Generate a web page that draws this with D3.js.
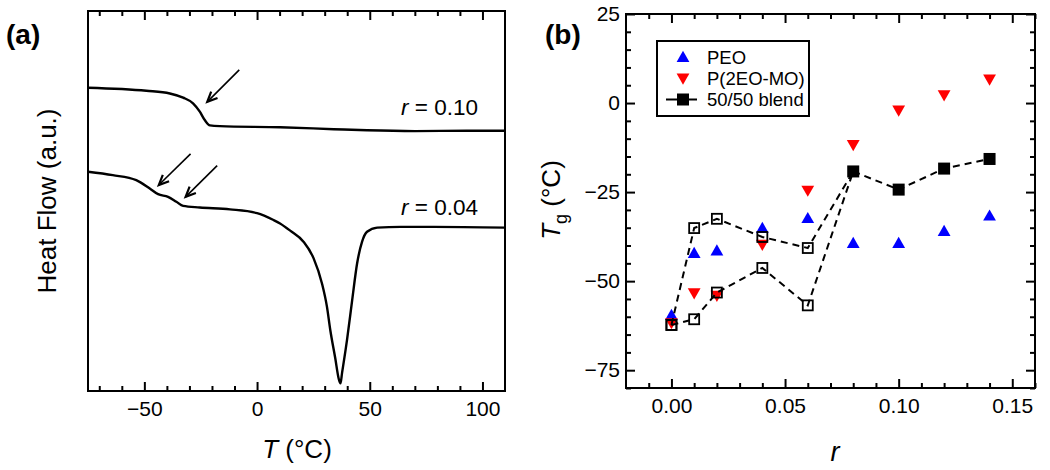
<!DOCTYPE html>
<html>
<head>
<meta charset="utf-8">
<script src="https://cdn.jsdelivr.net/npm/d3@7"></script>
<style>
  html, body { margin: 0; padding: 0; background: #fff; }
  svg { display: block; font-family: "Liberation Sans", Arial, Helvetica, sans-serif; }
</style>
</head>
<body>
<svg id="chart" width="1050" height="470"></svg>
<script>
// ---------- Panel (a): DSC traces ----------
const tempR010 = [-75, -49.1, -38.7, -32.8, -28.4, -25.4, -23.2, -20.9, -16.5, 10.2, 34, 48.8, 70, 93, 110];
const heatR010 = [79.8, 79.0, 78.3, 77.2, 75.7, 73.5, 71.3, 69.9, 69.7, 69.4, 68.9, 68.6, 68.4, 68.5, 68.5];
const tempR004 = [-75, -64, -53.6, -47.6, -43.9, -39.5, -35.8, -32.8, -25.4, -12, 0, 7.3, 10.2, 14.7, 20.6, 25.1, 28.8, 31, 32.5, 34.7, 36.2, 37, 37.7, 39.9, 42.2, 44.4, 46.6, 48.8, 53.3, 63.7, 78.4, 110];
const heatR004 = [57.7, 56.8, 55.5, 53.3, 51.8, 51.1, 49.8, 48.7, 48.3, 47.8, 46.8, 45.0, 44.1, 42.2, 39.3, 34.9, 28.3, 22.2, 16.0, 8.6, 3.3, 2.0, 4.7, 13.4, 23.9, 33.6, 39.3, 41.9, 43.0, 43.2, 43.2, 43.0];
const traceLabels = ["0.10", "0.04"];
const tempMajorTicks = [-50, 0, 50, 100];
const tempMinorTicks = [-70, -60, -40, -30, -20, -10, 10, 20, 30, 40, 60, 70, 80, 90];
// arrows: [T_from, HF_from, T_to, HF_to]
const arrowFromT = [-7.9, -29.5, -17.7];
const arrowFromH = [84.5, 62.4, 59.3];
const arrowToT = [-22.1, -43.6, -31.7];
const arrowToH = [76.1, 54.2, 51.1];

// ---------- Panel (b): Tg vs r ----------
const rPEO = [0, 0.01, 0.02, 0.04, 0.06, 0.08, 0.10, 0.12, 0.14];
const tgPEO = [-59.5, -42.1, -41.4, -35.1, -32.3, -39.3, -39.3, -35.9, -31.6];
const rP2EO = [0, 0.01, 0.02, 0.04, 0.06, 0.08, 0.10, 0.12, 0.14];
const tgP2EO = [-61.8, -53.4, -54.1, -39.8, -24.6, -11.8, -2.1, 2.2, 6.6];
const rBlendUpper = [0, 0.01, 0.02, 0.04, 0.06, 0.08];
const tgBlendUpper = [-62.3, -35.1, -32.5, -37.6, -40.7, -19.2];
const rBlendLower = [0, 0.01, 0.02, 0.04, 0.06, 0.08];
const tgBlendLower = [-62.3, -60.7, -53.2, -46.3, -56.8, -19.2];
const rBlendFilled = [0.08, 0.10, 0.12, 0.14];
const tgBlendFilled = [-19.2, -24.3, -18.4, -15.7];
const rMajorTicks = [0, 0.05, 0.10, 0.15];
const rMinorTicks = [-0.01, 0.01, 0.02, 0.03, 0.04, 0.06, 0.07, 0.08, 0.09, 0.11, 0.12, 0.13, 0.14, 0.16];
const tgMajorTicks = [25, 0, -25, -50, -75];
const tgMinorTicks = [20, 15, 10, 5, -5, -10, -15, -20, -30, -35, -40, -45, -55, -60, -65, -70, -80];
const legendLabels = ["PEO", "P(2EO-MO)", "50/50 blend"];

const svg = d3.select("#chart");
const FONT_TICK = 21;

function frameAxes(g, x, y, xMajor, xMinor, yMajor, yMinor, xFmt, yFmt, showY) {
  const [x0, x1] = x.range();
  const [y0, y1] = y.range(); // y0 bottom, y1 top
  const W = x1 - x0, H = y0 - y1;
  const bMaj = g.append("g").attr("transform", `translate(0,${y0})`)
    .call(d3.axisBottom(x).tickValues(xMajor).tickSize(-9).tickPadding(10).tickFormat(xFmt));
  const bMin = g.append("g").attr("transform", `translate(0,${y0})`)
    .call(d3.axisBottom(x).tickValues(xMinor).tickSize(-5).tickFormat(""));
  const tMaj = g.append("g").attr("transform", `translate(0,${y1})`)
    .call(d3.axisTop(x).tickValues(xMajor).tickSize(-9).tickFormat(""));
  const tMin = g.append("g").attr("transform", `translate(0,${y1})`)
    .call(d3.axisTop(x).tickValues(xMinor).tickSize(-5).tickFormat(""));
  const all = [bMaj, bMin, tMaj, tMin];
  if (showY) {
    all.push(g.append("g").attr("transform", `translate(${x0},0)`)
      .call(d3.axisLeft(y).tickValues(yMajor).tickSize(-9).tickPadding(6).tickFormat(yFmt)));
    all.push(g.append("g").attr("transform", `translate(${x0},0)`)
      .call(d3.axisLeft(y).tickValues(yMinor).tickSize(-5).tickFormat("")));
    all.push(g.append("g").attr("transform", `translate(${x1},0)`)
      .call(d3.axisRight(y).tickValues(yMajor).tickSize(-9).tickFormat("")));
    all.push(g.append("g").attr("transform", `translate(${x1},0)`)
      .call(d3.axisRight(y).tickValues(yMinor).tickSize(-5).tickFormat("")));
  }
  all.forEach(a => {
    a.select(".domain").remove();
    a.selectAll("line").attr("stroke", "#000").attr("stroke-width", 2);
    a.selectAll("text").attr("fill", "#000").style("font-size", FONT_TICK + "px")
      .style("font-family", '"Liberation Sans", Arial, sans-serif');
  });
  g.append("rect").attr("x", x0).attr("y", y1).attr("width", W).attr("height", H)
    .attr("fill", "none").attr("stroke", "#000").attr("stroke-width", 2);
}

// ================= Panel (a) =================
const xa = d3.scaleLinear().domain([-75, 110]).range([88, 505]);
const ya = d3.scaleLinear().domain([0, 100]).range([391, 11]);
const ga = svg.append("g");

const lineA = d3.line().x(d => xa(d[0])).y(d => ya(d[1])).curve(d3.curveMonotoneX);
const traces = [d3.zip(tempR010, heatR010), d3.zip(tempR004, heatR004)];
ga.selectAll("path.trace").data(traces).enter().append("path")
  .attr("class", "trace").attr("d", lineA)
  .attr("fill", "none").attr("stroke", "#000").attr("stroke-width", 2.4)
  .attr("stroke-linejoin", "round");

frameAxes(ga, xa, ya, tempMajorTicks, tempMinorTicks, [], [], d3.format("d"), null, false);

// arrows
arrowFromT.forEach((t, i) => {
  const xf = xa(t), yf = ya(arrowFromH[i]);
  const xt = xa(arrowToT[i]), yt = ya(arrowToH[i]);
  const ang = Math.atan2(yf - yt, xf - xt);
  const L = 11, spread = 0.42;
  const p1 = [xt + L * Math.cos(ang + spread), yt + L * Math.sin(ang + spread)];
  const p2 = [xt + L * Math.cos(ang - spread), yt + L * Math.sin(ang - spread)];
  ga.append("line").attr("x1", xf).attr("y1", yf).attr("x2", xt).attr("y2", yt)
    .attr("stroke", "#000").attr("stroke-width", 1.6);
  ga.append("path").attr("d", `M${p1[0]},${p1[1]}L${xt},${yt}L${p2[0]},${p2[1]}`)
    .attr("fill", "none").attr("stroke", "#000").attr("stroke-width", 2.2)
    .attr("stroke-linejoin", "miter");
});

// trace labels
const labelY = [115, 215];
traceLabels.forEach((lab, i) => {
  const t = ga.append("text").attr("x", 478).attr("y", labelY[i])
    .attr("text-anchor", "end").style("font-size", "22.5px").attr("fill", "#000");
  t.append("tspan").style("font-style", "italic").text("r");
  t.append("tspan").text(" = " + lab);
});

// axis titles
const tA = ga.append("text").attr("x", 297).attr("y", 458).attr("text-anchor", "middle")
  .style("font-size", "26px");
tA.append("tspan").style("font-style", "italic").text("T");
tA.append("tspan").text(" (°C)");
ga.append("text").attr("transform", "translate(56,201) rotate(-90)")
  .attr("text-anchor", "middle").style("font-size", "26px").text("Heat Flow (a.u.)");
ga.append("text").attr("x", 6).attr("y", 44).style("font-size", "28px")
  .style("font-weight", "bold").text("(a)");

// ================= Panel (b) =================
const xb = d3.scaleLinear().domain([-0.02, 0.16]).range([626, 1035]);
const yb = d3.scaleLinear().domain([-80, 25]).range([388, 14]);
const gb = svg.append("g");

frameAxes(gb, xb, yb, rMajorTicks, rMinorTicks, tgMajorTicks, tgMinorTicks,
  d3.format(".2f"), d3.format("d"), true);

const upTri = "M0,-6.2L6.4,5L-6.4,5Z";
const downTri = "M0,6.2L6.4,-5L-6.4,-5Z";

gb.selectAll("path.peo").data(d3.zip(rPEO, tgPEO)).enter().append("path")
  .attr("class", "peo").attr("d", upTri)
  .attr("transform", d => `translate(${xb(d[0])},${yb(d[1])})`).attr("fill", "#0000ff");
gb.selectAll("path.p2eo").data(d3.zip(rP2EO, tgP2EO)).enter().append("path")
  .attr("class", "p2eo").attr("d", downTri)
  .attr("transform", d => `translate(${xb(d[0])},${yb(d[1])})`).attr("fill", "#ff0000");

const lineB = d3.line().x(d => xb(d[0])).y(d => yb(d[1]));
const blendLines = [d3.zip(rBlendUpper, tgBlendUpper), d3.zip(rBlendLower, tgBlendLower), d3.zip(rBlendFilled, tgBlendFilled)];
gb.selectAll("path.blend").data(blendLines).enter().append("path")
  .attr("class", "blend").attr("d", lineB).attr("fill", "none")
  .attr("stroke", "#000").attr("stroke-width", 2).attr("stroke-dasharray", "7,5");

const openPts = d3.zip(rBlendUpper, tgBlendUpper).slice(0, 5).concat(d3.zip(rBlendLower, tgBlendLower).slice(0, 5));
gb.selectAll("rect.open").data(openPts).enter().append("rect")
  .attr("class", "open").attr("x", d => xb(d[0]) - 5).attr("y", d => yb(d[1]) - 5)
  .attr("width", 10).attr("height", 10).attr("fill", "none")
  .attr("stroke", "#000").attr("stroke-width", 1.8);
gb.selectAll("rect.filled").data(d3.zip(rBlendFilled, tgBlendFilled)).enter().append("rect")
  .attr("class", "filled").attr("x", d => xb(d[0]) - 6).attr("y", d => yb(d[1]) - 6)
  .attr("width", 12).attr("height", 12).attr("fill", "#000");

// legend
const lg = gb.append("g");
lg.append("rect").attr("x", 657).attr("y", 41).attr("width", 152).attr("height", 75)
  .attr("fill", "#fff").attr("stroke", "#000").attr("stroke-width", 2);
const legY = [57, 78.5, 99.5];
lg.append("path").attr("d", upTri).attr("transform", `translate(683,${legY[0]})`).attr("fill", "#0000ff");
lg.append("path").attr("d", downTri).attr("transform", `translate(683,${legY[1]})`).attr("fill", "#ff0000");
lg.append("line").attr("x1", 666).attr("x2", 697).attr("y1", legY[2]).attr("y2", legY[2])
  .attr("stroke", "#000").attr("stroke-width", 2);
lg.append("rect").attr("x", 677).attr("y", legY[2] - 6).attr("width", 12).attr("height", 12).attr("fill", "#000");
legendLabels.forEach((l, i) => {
  lg.append("text").attr("x", 707).attr("y", legY[i]).attr("dy", "0.36em")
    .style("font-size", "18.5px").text(l);
});

// axis titles
const tB = gb.append("text").attr("x", 835).attr("y", 461).attr("text-anchor", "middle")
  .style("font-size", "27px");
tB.append("tspan").style("font-style", "italic").text("r");
const yT = gb.append("text").attr("transform", "translate(560,200) rotate(-90)")
  .attr("text-anchor", "middle").style("font-size", "26px");
yT.append("tspan").style("font-style", "italic").text("T");
yT.append("tspan").attr("dy", 7).style("font-size", "18px").text("g");
yT.append("tspan").attr("dy", -7).text(" (°C)");
gb.append("text").attr("x", 545).attr("y", 44).style("font-size", "28px")
  .style("font-weight", "bold").text("(b)");
</script>
</body>
</html>
